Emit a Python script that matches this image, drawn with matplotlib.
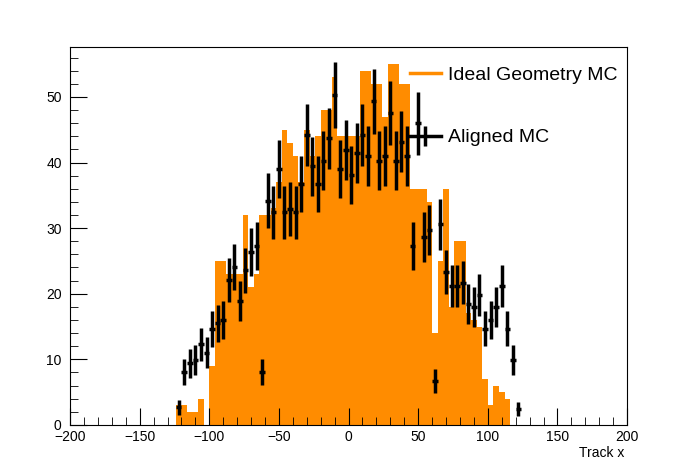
import numpy as np
import matplotlib
matplotlib.use("Agg")
import matplotlib.pyplot as plt
from matplotlib.ticker import MultipleLocator
from matplotlib.lines import Line2D

plt.rcParams['font.family'] = ['Liberation Sans', 'DejaVu Sans']

bin_width = 4
bin_centers = np.arange(-122, 123, 4)

ideal = [3, 3, 2, 2, 4, 0, 9, 25, 25, 23, 23, 23, 32, 21, 23, 32,
         32, 33, 37, 45, 43, 41, 37, 45, 41, 44, 48, 48, 53, 44, 44, 44,
         44, 54, 54, 52, 52, 47, 55, 55, 52, 52, 36, 36, 36, 34, 14, 25,
         36, 18, 28, 28, 17, 16, 15, 7, 3, 6, 5, 4, 0, 0]

aligned = [2.7, 8.1, 9.4, 9.9, 12.3, 11, 14.6, 15.5, 16, 22.1, 24.1, 18.9, 23.6, 26.4, 27.3, 8.1,
           34.2, 32.4, 39, 32.4, 32.9, 32.4, 36.7, 44.2, 39.4, 36.7, 40.3, 43.7, 50.3, 39, 41.9, 38.1,
           41.4, 44.2, 41, 49.3, 40.3, 41, 47.5, 40.3, 43.2, 41, 27.3, 46, 28.6, 29.7, 6.7, 30.6,
           23.3, 21.2, 21.2, 21.7, 18.4, 18, 19.8, 14.7, 16, 18, 21.2, 14.7, 9.9, 2.4]

orange = '#ff8c00'
fig = plt.figure(figsize=(6.96, 4.72), dpi=100)
ax = fig.add_axes([0.1006, 0.0996, 0.8004, 0.8008])

ax.bar(bin_centers, ideal, width=bin_width, color=orange, linewidth=0, align='center')
yerr = np.sqrt(np.array(aligned) / 2.0)
ax.errorbar(bin_centers, aligned, xerr=bin_width / 2, yerr=yerr, fmt='none',
            ecolor='black', elinewidth=2.5, capsize=0)

ax.set_xlim(-200, 200)
ax.set_ylim(0, 57.6)
ax.xaxis.set_major_locator(MultipleLocator(50))
ax.xaxis.set_minor_locator(MultipleLocator(10))
ax.yaxis.set_major_locator(MultipleLocator(10))
ax.yaxis.set_minor_locator(MultipleLocator(2))
ax.tick_params(which='both', direction='in', top=False, right=False, labelsize=10)
ax.tick_params(axis='y', pad=6)
ax.tick_params(which='major', length=12)
ax.tick_params(which='minor', length=6)
for s in ax.spines.values():
    s.set_linewidth(0.8)

fig.text(0.897, 0.025, 'Track x', ha='right', va='bottom', fontsize=10)

handles = [Line2D([], [], color=orange, lw=2.5),
           Line2D([], [], color='black', lw=2.5, marker='|', markersize=14, markeredgewidth=2.5)]
leg = ax.legend(handles, ['Ideal Geometry MC', 'Aligned MC'], loc='upper left',
                bbox_to_anchor=(0.578, 0.995), frameon=False, fontsize=14,
                handlelength=1.6, labelspacing=2.3, handletextpad=0.4)

fig.savefig('out.png', dpi=100)
